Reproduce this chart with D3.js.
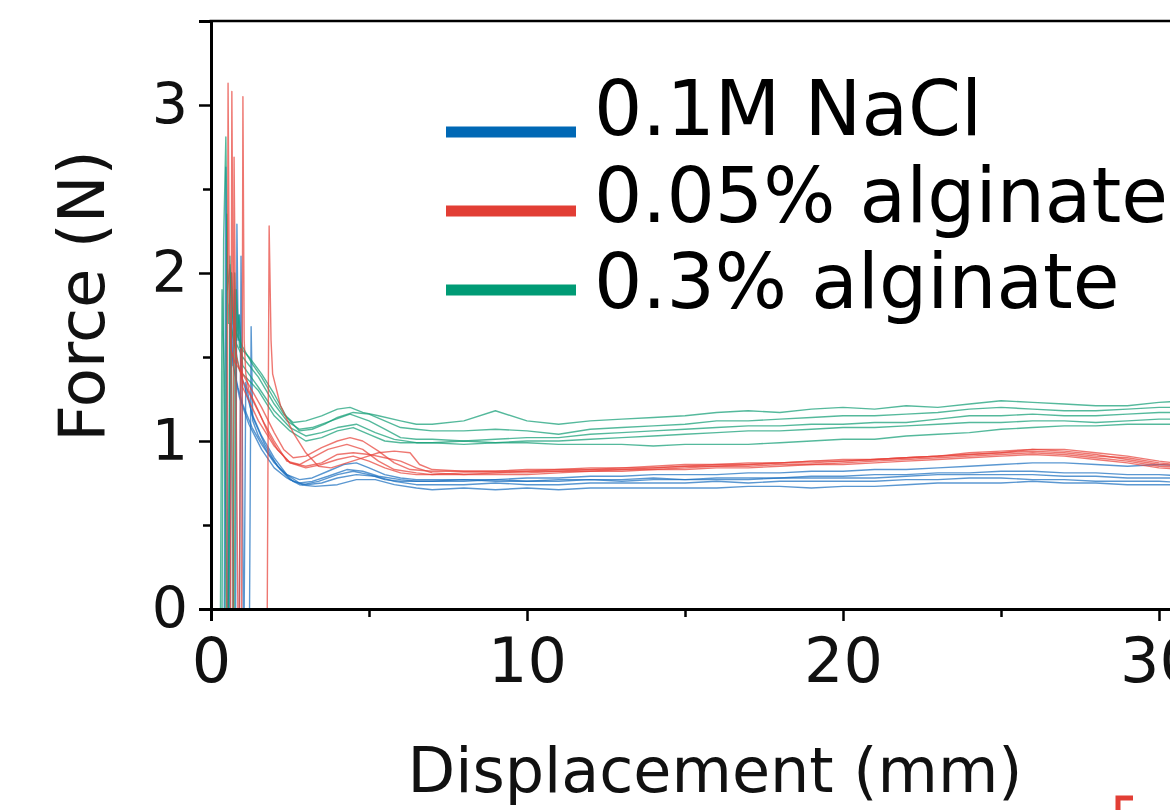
<!DOCTYPE html>
<html>
<head>
<meta charset="utf-8">
<script src="https://cdn.jsdelivr.net/npm/d3@7"></script>
<style>
  html, body { margin: 0; padding: 0; background: #fff; }
  svg { display: block; font-family: "DejaVu Sans", Verdana, sans-serif; }
</style>
</head>
<body>
<div id="chart"></div>
<script>
// Force vs displacement traces, 5 repeats per condition.
// Early part (spike + settling) is [x, F] pairs, plateau uses a shared x grid.

const seriesNames = ["0.1M NaCl", "0.05% alginate", "0.3% alginate"];
const seriesColors = ["#1a6fbf", "#e8423a", "#139e76"];
const legendColors = ["#0068b5", "#e23e35", "#009b75"];

const xTicks = [0, 10, 20, 30];
const xMinor = [5, 15, 25];
const yTicks = [0, 1, 2, 3];
const yMinor = [0.5, 1.5, 2.5];

const plateauX = [7, 8, 9, 10, 11, 12, 13, 14, 15, 16, 17, 18, 19, 20, 21, 22, 23, 24, 25, 26, 27, 28, 29, 30, 31];

const blueEarly = [
  [[0,0],[0.42,0],[0.47,2.63],[0.5,1.2],[0.53,0],[0.57,0],[0.6,1.7],[0.7,1.45],[0.85,1.32],[1.0,1.22],[1.3,1.08],[1.6,0.98],[2.0,0.87],[2.4,0.8],[2.8,0.77],[3.2,0.78],[3.7,0.82],[4.2,0.86],[4.6,0.87],[5.0,0.84],[5.5,0.8],[6.0,0.78],[6.5,0.77]],
  [[0,0],[0.78,0],[0.82,2.29],[0.86,1.6],[0.9,1.75],[0.95,1.4],[1.1,1.3],[1.3,1.16],[1.6,1.03],[2.0,0.9],[2.4,0.8],[2.8,0.75],[3.2,0.76],[3.7,0.79],[4.3,0.83],[4.8,0.82],[5.3,0.79],[6.0,0.77],[6.5,0.76]],
  [[0,0],[0.9,0],[0.95,2.1],[0.98,1.5],[1.02,0],[1.05,0],[1.1,1.35],[1.3,1.15],[1.7,0.98],[2.1,0.85],[2.5,0.77],[2.9,0.74],[3.4,0.76],[4.0,0.8],[4.5,0.82],[5.0,0.8],[5.5,0.77],[6.0,0.76],[6.5,0.76]],
  [[0,0],[1.22,0],[1.27,1.68],[1.32,1.12],[1.5,1.03],[1.8,0.93],[2.2,0.83],[2.6,0.76],[3.0,0.74],[3.5,0.75],[4.0,0.78],[4.6,0.8],[5.2,0.79],[5.8,0.76],[6.5,0.74]],
  [[0,0],[0.6,0],[0.65,2.0],[0.7,1.45],[0.75,1.9],[0.8,1.35],[0.9,1.26],[1.2,1.1],[1.6,0.95],[2.0,0.84],[2.4,0.78],[2.8,0.74],[3.3,0.73],[4.0,0.74],[4.6,0.77],[5.2,0.77],[5.8,0.74],[6.5,0.72]]
];
const bluePlateau = [
  [0.77,0.77,0.77,0.78,0.78,0.79,0.79,0.80,0.80,0.80,0.81,0.81,0.82,0.82,0.83,0.83,0.84,0.85,0.86,0.87,0.87,0.86,0.85,0.86,0.85],
  [0.76,0.77,0.76,0.76,0.77,0.77,0.77,0.78,0.77,0.78,0.78,0.78,0.79,0.79,0.80,0.80,0.81,0.81,0.82,0.82,0.81,0.81,0.80,0.80,0.79],
  [0.76,0.76,0.77,0.76,0.76,0.77,0.76,0.77,0.77,0.77,0.77,0.78,0.78,0.78,0.78,0.79,0.80,0.80,0.80,0.80,0.79,0.79,0.78,0.78,0.78],
  [0.74,0.74,0.75,0.74,0.74,0.75,0.75,0.75,0.75,0.76,0.75,0.76,0.76,0.76,0.76,0.77,0.77,0.78,0.78,0.77,0.77,0.76,0.76,0.76,0.75],
  [0.71,0.72,0.71,0.72,0.71,0.72,0.72,0.72,0.72,0.72,0.73,0.73,0.72,0.73,0.73,0.74,0.75,0.75,0.75,0.76,0.75,0.75,0.74,0.74,0.74]
];

const redEarly = [
  [[0,0],[0.5,0],[0.54,3.13],[0.58,1.9],[0.62,1.55],[0.75,1.47],[1.0,1.4],[1.3,1.3],[1.6,1.2],[2.0,1.05],[2.3,0.95],[2.6,0.9],[3.0,0.91],[3.5,0.96],[4.0,1.0],[4.4,1.02],[4.8,1.0],[5.3,0.94],[5.8,0.87],[6.3,0.83]],
  [[0,0],[0.62,0],[0.66,3.08],[0.7,1.8],[0.8,1.5],[1.0,1.36],[1.3,1.25],[1.7,1.1],[2.0,1.0],[2.4,0.88],[2.8,0.86],[3.2,0.9],[3.7,0.95],[4.3,0.98],[4.8,0.95],[5.3,0.88],[5.8,0.83],[6.5,0.81]],
  [[0,0],[0.7,0],[0.73,2.69],[0.78,1.6],[0.85,0],[0.9,0],[0.94,1.55],[1.0,1.32],[1.5,1.12],[2.0,0.97],[2.5,0.87],[3.0,0.85],[3.5,0.87],[4.0,0.92],[4.5,0.93],[5.0,0.92],[5.5,0.9],[6.0,0.88],[6.5,0.84]],
  [[0,0],[0.97,0],[1.01,3.05],[1.05,1.6],[1.1,1.4],[1.2,1.3],[1.5,1.18],[1.8,1.05],[2.1,0.95],[2.5,0.87],[3.0,0.84],[3.5,0.86],[4.0,0.89],[4.5,0.91],[5.0,0.88],[5.5,0.84],[6.0,0.81],[6.5,0.8]],
  [[0,0],[1.78,0],[1.84,2.28],[1.9,1.6],[1.95,1.4],[2.2,1.21],[2.6,1.05],[3.0,0.93],[3.4,0.85],[3.8,0.84],[4.3,0.87],[4.8,0.9],[5.3,0.93],[5.8,0.94],[6.3,0.93],[6.6,0.86]]
];
const redPlateau = [
  [0.82,0.82,0.82,0.83,0.83,0.84,0.84,0.85,0.86,0.86,0.87,0.87,0.88,0.88,0.89,0.90,0.91,0.92,0.93,0.95,0.95,0.93,0.91,0.88,0.86],
  [0.80,0.80,0.81,0.81,0.82,0.82,0.83,0.83,0.84,0.85,0.85,0.86,0.86,0.87,0.88,0.89,0.90,0.91,0.92,0.93,0.92,0.90,0.88,0.85,0.84],
  [0.81,0.80,0.80,0.80,0.81,0.82,0.82,0.83,0.83,0.84,0.84,0.85,0.86,0.86,0.87,0.88,0.89,0.90,0.91,0.92,0.91,0.89,0.87,0.84,0.83],
  [0.80,0.81,0.81,0.82,0.82,0.83,0.83,0.84,0.85,0.85,0.86,0.87,0.87,0.88,0.89,0.90,0.91,0.93,0.94,0.95,0.94,0.92,0.89,0.86,0.85],
  [0.83,0.82,0.82,0.82,0.83,0.83,0.84,0.84,0.85,0.86,0.86,0.87,0.88,0.89,0.89,0.90,0.91,0.92,0.93,0.94,0.93,0.91,0.90,0.87,0.85]
];

const greenEarly = [
  [[0,0],[0.35,0],[0.4,2.2],[0.47,2.81],[0.52,1.9],[0.6,2.05],[0.7,1.7],[0.85,1.62],[1.0,1.56],[1.3,1.46],[1.6,1.38],[2.0,1.25],[2.3,1.16],[2.6,1.11],[3.0,1.12],[3.5,1.15],[4.0,1.19],[4.4,1.2],[4.8,1.17],[5.3,1.15],[6.0,1.12],[6.5,1.1]],
  [[0,0],[0.55,0],[0.6,2.1],[0.65,1.5],[0.7,0],[0.74,0],[0.8,1.9],[0.9,1.56],[1.2,1.5],[1.6,1.4],[2.0,1.28],[2.4,1.14],[2.8,1.06],[3.2,1.07],[3.6,1.1],[4.0,1.14],[4.5,1.17],[5.0,1.16],[5.5,1.12],[6.0,1.08],[6.5,1.07]],
  [[0,0],[0.45,0],[0.5,2.35],[0.55,1.7],[0.65,2.0],[0.75,1.6],[1.0,1.5],[1.5,1.38],[2.0,1.22],[2.4,1.12],[2.8,1.07],[3.2,1.08],[3.8,1.12],[4.4,1.16],[5.0,1.12],[5.5,1.07],[6.0,1.02],[6.5,1.01]],
  [[0,0],[0.7,0],[0.75,2.0],[0.8,1.6],[0.88,1.75],[1.0,1.45],[1.5,1.32],[2.0,1.18],[2.5,1.08],[3.0,1.03],[3.5,1.05],[4.0,1.08],[4.6,1.1],[5.2,1.05],[5.8,1.01],[6.5,0.99]],
  [[0,0],[0.3,0],[0.35,1.9],[0.42,1.4],[0.5,0],[0.55,0],[0.62,1.7],[0.9,1.42],[1.5,1.3],[2.0,1.15],[2.5,1.06],[3.0,1.0],[3.5,1.02],[4.0,1.06],[4.5,1.08],[5.0,1.04],[5.5,1.0],[6.0,0.99],[6.5,0.99]]
];
const greenPlateau = [
  [1.10,1.12,1.18,1.12,1.10,1.12,1.13,1.14,1.15,1.17,1.18,1.17,1.19,1.20,1.19,1.21,1.20,1.22,1.24,1.23,1.22,1.21,1.21,1.23,1.24],
  [1.06,1.06,1.07,1.06,1.04,1.07,1.08,1.09,1.10,1.12,1.12,1.13,1.14,1.15,1.15,1.16,1.17,1.19,1.20,1.19,1.18,1.18,1.19,1.20,1.20],
  [1.01,1.00,1.01,1.02,1.02,1.04,1.05,1.06,1.07,1.08,1.09,1.09,1.10,1.10,1.11,1.11,1.13,1.15,1.15,1.16,1.15,1.15,1.16,1.17,1.17],
  [0.99,1.00,0.99,1.00,1.00,1.01,1.02,1.03,1.04,1.05,1.06,1.06,1.07,1.08,1.08,1.09,1.10,1.11,1.11,1.12,1.12,1.11,1.12,1.13,1.13],
  [0.99,0.98,0.99,0.99,0.98,0.98,0.98,0.97,0.98,0.98,0.98,0.99,1.00,1.01,1.01,1.03,1.04,1.05,1.07,1.08,1.09,1.09,1.10,1.10,1.10]
];

// Setup
const svgWidth = 1170;
const svgHeight = 810;

const svg = d3.select("#chart")
    .append("svg")
    .attr("width", svgWidth)
    .attr("height", svgHeight);

const x = d3.scaleLinear().domain([0, 35]).range([211, 211 + 35 * 31.6]);
const y = d3.scaleLinear().domain([0, 3.5]).range([609, 21]);

// join early part and plateau of every trace
function buildTraces(early, plateau) {
  return early.map((pts, i) => pts.concat(plateauX.map((px, j) => [px, plateau[i][j]])));
}
const groups = [
  buildTraces(blueEarly, bluePlateau),
  buildTraces(redEarly, redPlateau),
  buildTraces(greenEarly, greenPlateau)
];

svg.append("clipPath").attr("id", "plot-clip")
  .append("rect")
    .attr("x", x(0)).attr("y", y(3.5))
    .attr("width", svgWidth - x(0)).attr("height", y(0) - y(3.5));

const line = d3.line()
    .x(d => x(d[0]))
    .y(d => y(d[1]));

const plot = svg.append("g").attr("clip-path", "url(#plot-clip)");
const drawOrder = [0, 2, 1];
drawOrder.forEach(gi => {
  plot.append("g").selectAll("path")
    .data(groups[gi])
    .enter().append("path")
      .attr("d", line)
      .attr("fill", "none")
      .attr("stroke", seriesColors[gi])
      .attr("stroke-width", 1.4)
      .attr("stroke-opacity", 0.72)
      .attr("stroke-linejoin", "round");
});

// Axes
const xAxis = svg.append("g")
    .attr("transform", `translate(0,${y(0)})`)
    .call(d3.axisBottom(x).tickValues(xTicks).tickSize(12).tickPadding(17).tickFormat(d3.format("d")));
svg.append("g")
    .attr("transform", `translate(0,${y(0)})`)
    .call(d3.axisBottom(x).tickValues(xMinor).tickSize(8).tickFormat(""))
    .select(".domain").remove();

const yAxis = svg.append("g")
    .attr("transform", `translate(${x(0)},0)`)
    .call(d3.axisLeft(y).tickValues(yTicks).tickSize(12).tickPadding(11).tickFormat(d3.format("d")));
svg.append("g")
    .attr("transform", `translate(${x(0)},0)`)
    .call(d3.axisLeft(y).tickValues(yMinor).tickSize(8).tickFormat(""))
    .select(".domain").remove();

svg.selectAll(".domain").attr("stroke", "#000").attr("stroke-width", 3);
svg.selectAll(".tick line").attr("stroke", "#000").attr("stroke-width", 2.5);
xAxis.selectAll("text").attr("font-size", 62).attr("fill", "#111").attr("font-family", "DejaVu Sans, sans-serif");
yAxis.selectAll("text").attr("font-size", 57).attr("fill", "#111").attr("font-family", "DejaVu Sans, sans-serif");

// top frame line
svg.append("line")
    .attr("x1", x(0) - 1.5).attr("x2", svgWidth)
    .attr("y1", y(3.5)).attr("y2", y(3.5))
    .attr("stroke", "#000").attr("stroke-width", 2.5);

// Axis titles
svg.append("text")
    .attr("transform", "translate(104,296) rotate(-90)")
    .attr("text-anchor", "middle")
    .attr("font-size", 64)
    .attr("fill", "#111")
    .text("Force (N)");

svg.append("text")
    .attr("x", 715).attr("y", 792)
    .attr("text-anchor", "middle")
    .attr("font-size", 62)
    .attr("fill", "#111")
    .text("Displacement (mm)");

// Legend
const legendLineY = [132, 211, 290];
const legendTextY = [135, 222, 308];
const legend = svg.append("g");
seriesNames.forEach((name, i) => {
  legend.append("line")
      .attr("x1", 446).attr("x2", 576)
      .attr("y1", legendLineY[i]).attr("y2", legendLineY[i])
      .attr("stroke", legendColors[i])
      .attr("stroke-width", 11);
  legend.append("text")
      .attr("x", 594).attr("y", legendTextY[i])
      .attr("font-size", 76)
      .attr("fill", "#000")
      .text(name);
});

// red corner mark from the neighbouring panel, bottom right
svg.append("path")
    .attr("d", "M1133,798 H1118 V812")
    .attr("fill", "none")
    .attr("stroke", "#e23e35")
    .attr("stroke-width", 5);
</script>
</body>
</html>
